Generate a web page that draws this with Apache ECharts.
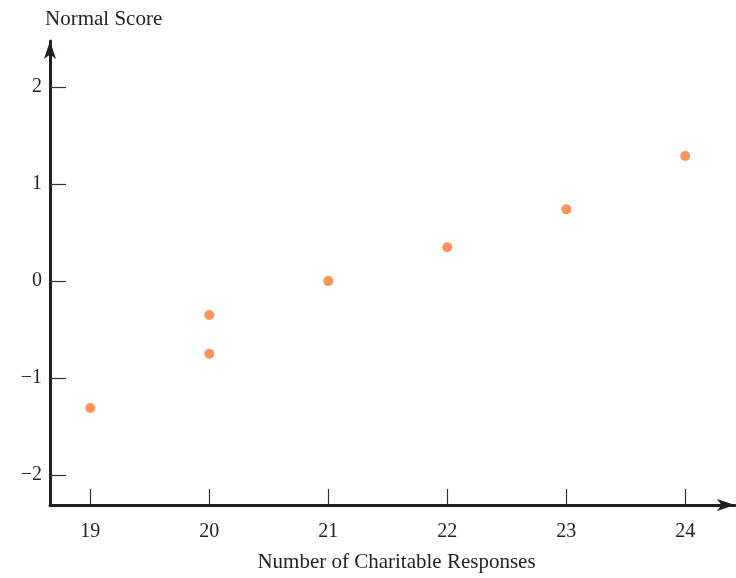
<!DOCTYPE html>
<html>
<head>
<meta charset="utf-8">
<script src="https://cdn.jsdelivr.net/npm/echarts@6/dist/echarts.min.js"></script>
<style>html,body{margin:0;padding:0;background:#fff}#c{width:736px;height:578px}</style>
</head>
<body>
<div id="c"></div>
<script>
const responses = [19, 20, 20, 21, 22, 23, 24];
const normalScores = [-1.31, -0.75, -0.35, 0, 0.35, 0.74, 1.29];
const xTicks = [19, 20, 21, 22, 23, 24];
const yTicks = [-2, -1, 0, 1, 2];
const xTitle = 'Number of Charitable Responses';
const yTitle = 'Normal Score';

const font = '"Liberation Serif", "DejaVu Serif", serif';
const axisColor = '#231f20';
const chart = echarts.init(document.getElementById('c'), null, {renderer: 'canvas'});
chart.setOption({
  animation: false,
  backgroundColor: '#ffffff',
  title: {
    text: yTitle, left: 40, top: 4,
    textStyle: {fontFamily: font, fontSize: 21, fontWeight: 'normal', color: '#231f20'}
  },
  grid: {left: 50, right: 1, top: 41, bottom: 68, containLabel: false},
  xAxis: {
    type: 'value', min: 18.661, max: 24.418,
    name: xTitle, nameLocation: 'middle', nameGap: 47,
    nameTextStyle: {fontFamily: font, fontSize: 21, color: '#231f20', padding: [0, 0, 0, 8]},
    axisLine: {show: true, onZero: false, symbol: ['none', 'arrow'], symbolSize: [9, 18],
      lineStyle: {color: axisColor, width: 3}},
    axisTick: {show: true, inside: true, length: 16, customValues: xTicks,
      lineStyle: {color: '#333', width: 1.2}},
    axisLabel: {show: true, customValues: xTicks, margin: 17,
      fontFamily: font, fontSize: 20, color: '#231f20'},
    splitLine: {show: false}
  },
  yAxis: {
    type: 'value', min: -2.31, max: 2.477,
    axisLine: {show: true, onZero: false, symbol: ['none', 'arrow'], symbolSize: [9, 18],
      lineStyle: {color: axisColor, width: 3}},
    axisTick: {show: true, inside: true, length: 16, customValues: yTicks,
      lineStyle: {color: '#333', width: 1.2}},
    axisLabel: {show: true, customValues: yTicks, margin: 8,
      fontFamily: font, fontSize: 20, color: '#231f20',
      formatter: v => String(v).replace('-', '\u2212')},
    splitLine: {show: false}
  },
  series: [{
    type: 'scatter',
    data: responses.map((x, i) => [x, normalScores[i]]),
    symbol: 'circle', symbolSize: 10,
    itemStyle: {color: '#f7955a', opacity: 1}
  }]
});
</script>
</body>
</html>
